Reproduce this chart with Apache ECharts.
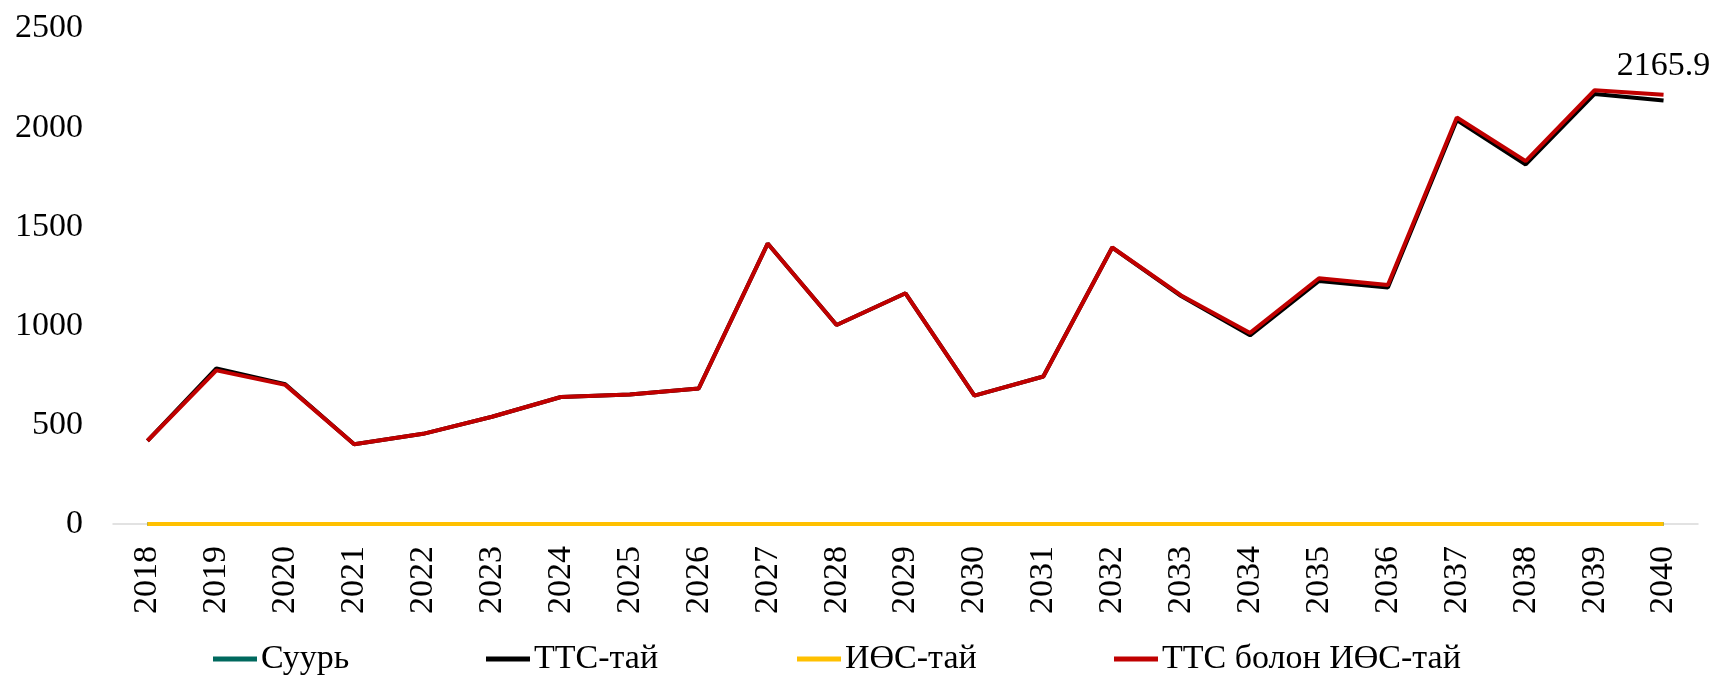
<!DOCTYPE html>
<html>
<head>
<meta charset="utf-8">
<script src="https://cdn.jsdelivr.net/npm/echarts@6/dist/echarts.min.js"></script>
<style>
  html, body { margin: 0; padding: 0; background: #fff; }
  #chart { width: 1713px; height: 678px; }
</style>
</head>
<body>
<div id="chart"></div>
<script>
// years on the x axis
const years = ['2018', '2019', '2020', '2021', '2022', '2023', '2024', '2025', '2026', '2027', '2028',
  '2029', '2030', '2031', '2032', '2033', '2034', '2035', '2036', '2037', '2038', '2039', '2040'];

const seriesNames = ['Суурь', 'ТТС-тай', 'ИӨС-тай', 'ТТС болон ИӨС-тай'];

// values
const baseVals = [0, 0, 0, 0, 0, 0, 0, 0, 0, 0, 0, 0, 0, 0, 0, 0, 0, 0, 0, 0, 0, 0, 0];
const ttsVals = [420, 785, 705, 402, 455, 541, 641, 653, 684, 1415, 1004, 1164, 648, 744, 1395, 1150, 952, 1226, 1193, 2038, 1814, 2170, 2137];
const iosVals = [0, 0, 0, 0, 0, 0, 0, 0, 0, 0, 0, 0, 0, 0, 0, 0, 0, 0, 0, 0, 0, 0, 0];
const bothVals = [420, 775, 702, 402, 455, 541, 641, 653, 684, 1415, 1004, 1164, 648, 744, 1395, 1153, 964, 1240, 1206, 2051, 1831, 2189, 2165.9];

const yTicks = { min: 0, max: 2500, interval: 500 };

const colors = ['#00695E', '#000000', '#FFC000', '#C00000'];
const font = 'Liberation Serif';

const chart = echarts.init(document.getElementById('chart'));

// last point of the red line carries a label
const bothData = bothVals.map((v, i) => i === bothVals.length - 1
  ? { value: v, label: { show: true } }
  : v);

function lineSeries(name, data, color, extra) {
  return Object.assign({
    name: name,
    type: 'line',
    data: data,
    symbol: 'none',
    lineStyle: { color: color, width: 4 },
    itemStyle: { color: color },
    animation: false
  }, extra || {});
}

// one legend per item so each sits where it does in the picture
const legendLefts = [208, 481, 792, 1109];
const legends = seriesNames.map((n, i) => ({
  data: [n],
  left: legendLefts[i],
  top: 637,
  icon: 'rect',
  itemWidth: 44,
  itemHeight: 5,
  textStyle: { fontFamily: font, fontSize: 34, color: '#000', padding: [0, 0, 0, -1] }
}));

chart.setOption({
  color: colors,
  grid: { left: 113, right: 15, top: 28.5, bottom: 154 },
  legend: legends,
  xAxis: {
    type: 'category',
    data: years,
    boundaryGap: true,
    axisLine: { lineStyle: { color: '#D9D9D9', width: 1.5 } },
    axisTick: { show: false },
    axisLabel: { rotate: 90, fontFamily: font, fontSize: 34, color: '#000', margin: 22, interval: 0 }
  },
  yAxis: {
    type: 'value',
    min: yTicks.min,
    max: yTicks.max,
    interval: yTicks.interval,
    splitLine: { show: false },
    axisLine: { show: false },
    axisTick: { show: false },
    axisLabel: { fontFamily: font, fontSize: 34, color: '#000', margin: 30, formatter: v => String(v) }
  },
  series: [
    lineSeries(seriesNames[0], baseVals, colors[0]),
    lineSeries(seriesNames[1], ttsVals, colors[1]),
    lineSeries(seriesNames[2], iosVals, colors[2]),
    lineSeries(seriesNames[3], bothData, colors[3], {
      symbol: 'circle',
      symbolSize: 0,
      showSymbol: true,
      label: { show: false, position: 'top', distance: 12, fontFamily: font, fontSize: 34, color: '#000' }
    })
  ]
});
</script>
</body>
</html>
